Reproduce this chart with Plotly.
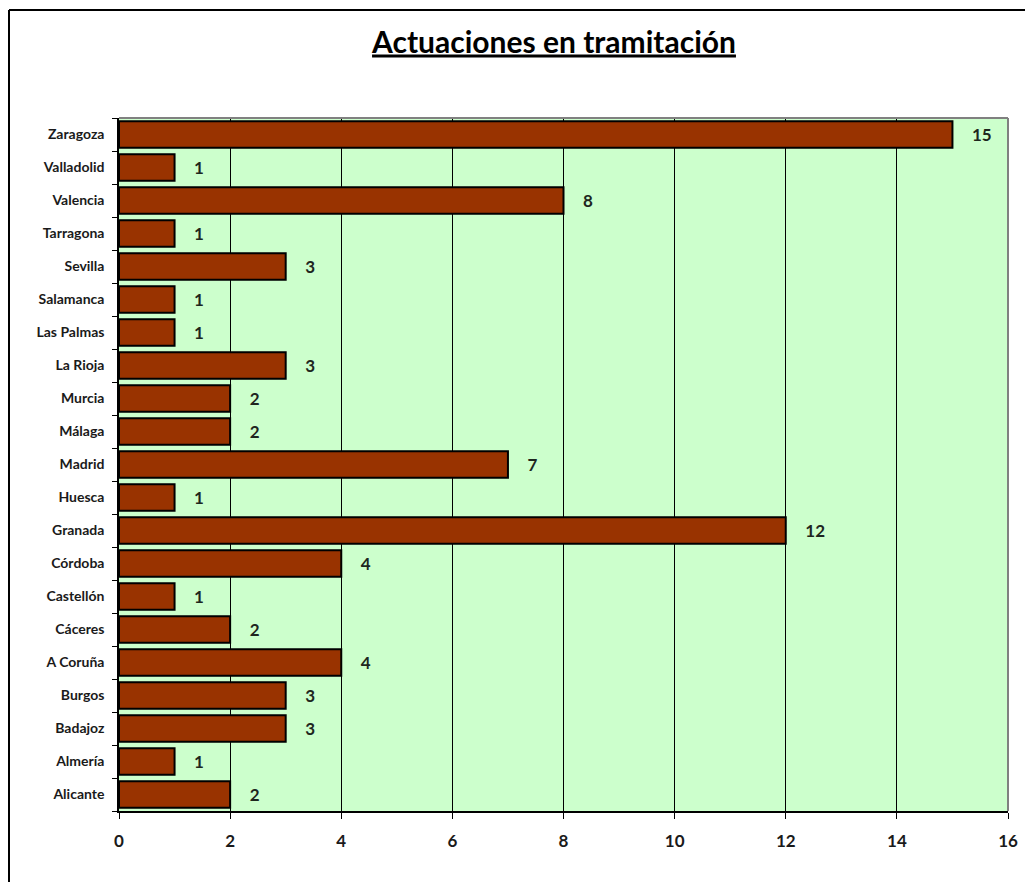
import plotly.graph_objects as go

categories = ["Alicante", "Almería", "Badajoz", "Burgos", "A Coruña", "Cáceres", "Castellón",
              "Córdoba", "Granada", "Huesca", "Madrid", "Málaga", "Murcia", "La Rioja",
              "Las Palmas", "Salamanca", "Sevilla", "Tarragona", "Valencia", "Valladolid", "Zaragoza"]
values = [2, 1, 3, 3, 4, 2, 1, 4, 12, 1, 7, 2, 2, 3, 1, 1, 3, 1, 8, 1, 15]
x_ticks = [0, 2, 4, 6, 8, 10, 12, 14, 16]
title = "Actuaciones en tramitación"

FONT = "Lato, 'Open Sans', sans-serif"

fig = go.Figure()
fig.add_trace(go.Bar(
    y=categories, x=values, orientation="h",
    marker=dict(color="#993300", line=dict(color="#000000", width=2)),
    width=0.8,
    text=["    " + str(v) for v in values],
    textposition="outside",
    textfont=dict(family=FONT, size=17, color="#1e261e", weight="bold"),
    cliponaxis=False,
    hoverinfo="x+y",
))

# page body has an 8px margin, so figure coords = page coords - 8
OFF = 8
W, H = 1033 - OFF, 882 - OFF
L, R, T, B = 119 - OFF, 25, 118 - OFF, 71
pw, ph = W - L - R, H - T - B

def px_x(p):
    return (p - OFF - L) / pw

def px_y(p):
    return 1 - (p - OFF - T) / ph

fig.update_layout(
    width=W, height=H,
    margin=dict(l=L, r=R, t=T, b=B),
    paper_bgcolor="white",
    plot_bgcolor="#CCFFCC",
    showlegend=False,
    bargap=0.2,
    title=dict(text="<u>" + title + "</u>", x=px_x(554), xref="paper", xanchor="center",
               y=1 - (42 - OFF) / H, yref="container", yanchor="middle",
               font=dict(family=FONT, size=30, color="#000000", weight="bold")),
    font=dict(family=FONT),
    xaxis=dict(range=[0, 16], tickvals=x_ticks, ticktext=[str(t) for t in x_ticks],
               showgrid=True, gridcolor="#000000", gridwidth=1,
               showline=True, linecolor="#000000", linewidth=1.5,
               ticks="outside", ticklen=6, tickcolor="#000000", tickwidth=1,
               ticklabelstandoff=8,
               tickfont=dict(family=FONT, size=17, color="#1a1a1a", weight="bold"),
               zeroline=False, fixedrange=True),
    yaxis=dict(categoryorder="array", categoryarray=categories,
               showline=True, linecolor="#000000", linewidth=1.5,
               ticks="outside", ticklen=5, tickcolor="#000000", tickwidth=1,
               tickson="boundaries", showgrid=False,
               ticklabelstandoff=10,
               tickfont=dict(family=FONT, size=14, color="#1a1a1a", weight="bold"),
               fixedrange=True),
)

# grey plot-area border on top and right
fig.add_shape(type="line", xref="paper", yref="paper", x0=0, x1=1, y0=1, y1=1,
              line=dict(color="#808080", width=2))
fig.add_shape(type="line", xref="paper", yref="paper", x0=1, x1=1, y0=0, y1=1,
              line=dict(color="#808080", width=2))
# outer chart frame (top and left edges)
fig.add_shape(type="line", xref="paper", yref="paper",
              x0=px_x(9), x1=px_x(1040), y0=px_y(10), y1=px_y(10),
              line=dict(color="#000000", width=2))
fig.add_shape(type="line", xref="paper", yref="paper",
              x0=px_x(9), x1=px_x(9), y0=px_y(10), y1=px_y(890),
              line=dict(color="#000000", width=2))

fig.write_html("out.html")
